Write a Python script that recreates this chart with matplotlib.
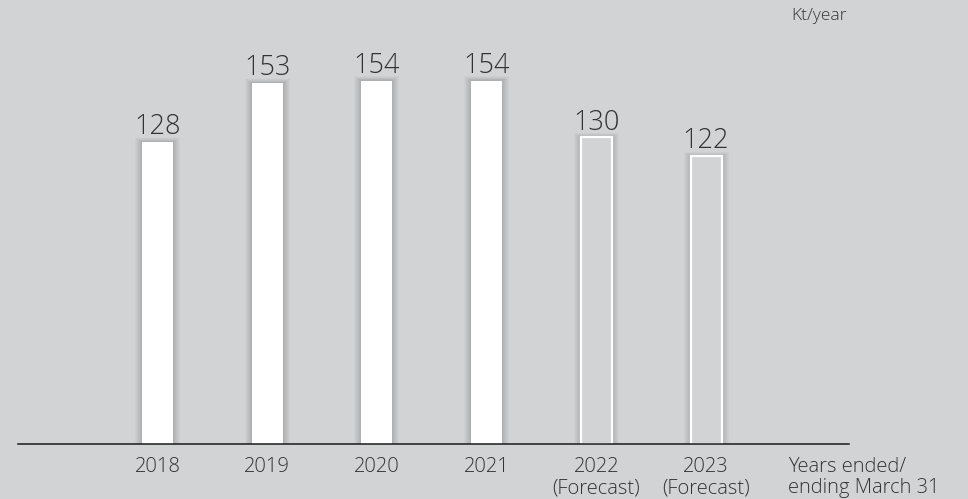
import matplotlib
matplotlib.use("Agg")
import matplotlib.pyplot as plt

years = ["2018", "2019", "2020", "2021", "2022\n(Forecast)", "2023\n(Forecast)"]
values = [128, 153, 154, 154, 130, 122]
forecast = [False, False, False, False, True, True]
unit_label = "Kt/year"
axis_note = "Years ended/\nending March 31"

plt.rcParams['font.family'] = ['Open Sans', 'DejaVu Sans']
bg = "#d2d3d5"
txt = "#333333"

fig = plt.figure(figsize=(9.68, 4.99), dpi=100, facecolor=bg)
ax = fig.add_axes([18/968, 55/499, (849-18)/968, (444-20)/499], facecolor=bg)

x = list(range(len(values)))
w = 0.283
px = 1 / 109.7
# soft shadows
for k in range(1, 8):
    ax.bar(x, [v + k * 0.25 for v in values], width=w + 2 * k * px,
           color="#000000", alpha=0.022, linewidth=0, zorder=1)
for xi, v, f in zip(x, values, forecast):
    if f:
        ax.bar(xi, v, width=w, color=bg, edgecolor="white", linewidth=1.6, zorder=2)
    else:
        ax.bar(xi, v, width=w, color="white", linewidth=0, zorder=2)
    ax.annotate(str(v), (xi, v), xytext=(0, 0.5), textcoords="offset points",
                ha="center", va="bottom", fontsize=19.5, color=txt, fontweight="light")

ax.set_xlim(-1.272, 6.303)
ax.set_ylim(0, 424/2.36)
for s in ["top", "right", "left"]:
    ax.spines[s].set_visible(False)
ax.spines["bottom"].set_color("#1a1a1a")
ax.spines["bottom"].set_linewidth(1.1)
ax.set_yticks([])
ax.set_xticks(x)
ax.set_xticklabels(years, fontsize=14.5, color=txt, linespacing=1.12, fontweight="light")
ax.tick_params(axis="x", length=0, pad=9)

ax.annotate(axis_note, (5.748, 0), xycoords=("data", "axes fraction"),
            xytext=(0, -9), textcoords="offset points", ha="left", va="top",
            fontsize=14.5, color=txt, linespacing=1.12, fontweight="light")
fig.text(791/968, 1 - 8/499, unit_label, ha="left", va="top", fontsize=12.5,
         color=txt, fontweight="light")

fig.savefig("out.png", dpi=100, facecolor=bg)
